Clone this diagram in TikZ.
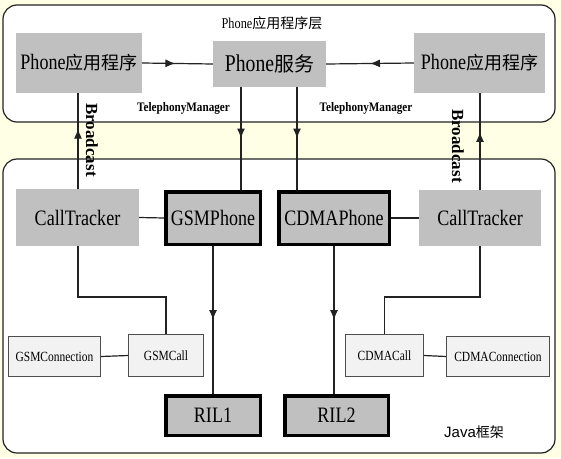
\documentclass[tikz,border=0pt]{standalone}
\usepackage{fontspec}
\setmainfont{Liberation Serif}
\newfontfamily\ser[FakeStretch=0.82]{Liberation Serif}
\newfontfamily\cjk{Noto Sans CJK SC}
\newfontfamily\javasans{Liberation Sans}
\newfontfamily\boldnarrow[FakeStretch=0.86]{Liberation Serif Bold}
\usetikzlibrary{arrows.meta,decorations.markings}
\definecolor{bgyellow}{HTML}{FFFFE6}
\definecolor{boxgray}{HTML}{C0C0C0}
\definecolor{lightbox}{HTML}{F2F2F2}
\definecolor{linecol}{HTML}{222222}
\newcommand{\zh}[1]{{\cjk #1}}
\begin{document}
\begin{tikzpicture}[x=1pt,y=-1pt,
  frame/.style={draw=linecol,line width=1.2pt,fill=white,rounded corners=14pt},
  graybox/.style={fill=boxgray,inner sep=0pt,anchor=center},
  thickbox/.style={draw=black,line width=3.5pt,fill=boxgray,inner sep=0pt,anchor=center},
  smallbox/.style={draw=linecol!80,line width=1pt,fill=lightbox,inner sep=0pt,anchor=center},
  conn/.style={draw=linecol,line width=1.2pt},
  midarrow/.style={conn,postaction={decorate},decoration={markings,mark=at position #1 with {\arrow{Latex[length=10pt,width=8pt]}}}},
  biglabel/.style={font=\ser\fontsize{22}{24}\selectfont},
  smalllabel/.style={font=\ser\fontsize{14}{16}\selectfont},
  tmlabel/.style={font=\boldnarrow\fontsize{13}{15}\selectfont},
  bclabel/.style={font=\bfseries\fontsize{17}{19}\selectfont,rotate=-90}
]
\fill[bgyellow] (0,0) rectangle (561,458);
\useasboundingbox (0,0) rectangle (561,458);

% frames
\draw[frame] (3,5) rectangle (555,122);
\draw[frame] (3,159) rectangle (555,453);

\node[font=\ser\fontsize{15}{17}\selectfont] (title) at (272,23) {Phone\zh{\fontsize{14}{16}\selectfont 应用程序层}};
\node[font=\javasans\fontsize{15}{17}\selectfont] (java) at (474,432) {Java\zh{\fontsize{14}{16}\selectfont 框架}};

% top layer
\node[graybox,minimum width=126pt,minimum height=60pt,biglabel] (appL) at (79,63) {Phone\zh{\fontsize{18}{20}\selectfont 应用程序}};
\node[graybox,minimum width=113pt,minimum height=46pt,font=\ser\fontsize{24}{26}\selectfont] (svc) at (269.5,64) {Phone\zh{\fontsize{20}{22}\selectfont 服务}};
\node[graybox,minimum width=131pt,minimum height=60pt,biglabel] (appR) at (479.5,63) {Phone\zh{\fontsize{18}{20}\selectfont 应用程序}};

% middle row
\node[graybox,minimum width=123pt,minimum height=57pt,biglabel] (ctL) at (77.5,217.5) {CallTracker};
\node[thickbox,minimum width=94.5pt,minimum height=52.5pt,biglabel] (gsm) at (213,218) {GSMPhone};
\node[thickbox,minimum width=110.5pt,minimum height=52.5pt,biglabel] (cdma) at (334,218) {CDMAPhone};
\node[graybox,minimum width=122pt,minimum height=56pt,biglabel] (ctR) at (480,218) {CallTracker};

% small boxes
\node[smallbox,minimum width=92pt,minimum height=40pt,smalllabel] (gconn) at (54.5,356.5) {GSMConnection};
\node[smallbox,minimum width=75pt,minimum height=42pt,smalllabel] (gcall) at (166,355.5) {GSMCall};
\node[smallbox,minimum width=78pt,minimum height=42pt,smalllabel] (ccall) at (384.5,355.5) {CDMACall};
\node[smallbox,minimum width=103pt,minimum height=40pt,smalllabel] (cconn) at (498,356.5) {CDMAConnection};

% RIL
\node[thickbox,minimum width=94.5pt,minimum height=39.5pt,biglabel] (ril1) at (213,415.5) {RIL1};
\node[thickbox,minimum width=103.5pt,minimum height=39.5pt,biglabel] (ril2) at (336.5,415.5) {RIL2};

% labels
\node[tmlabel] (tm1) at (183.5,108) {TelephonyManager};
\node[tmlabel] (tm2) at (366,108) {TelephonyManager};
\node[bclabel] (bc1) at (92,140) {Broadcast};
\node[bclabel] (bc2) at (458,146) {Broadcast};

% coordinates
\coordinate (svcA) at (241,87);
\coordinate (svcB) at (297,87);
\coordinate (ctLtop) at (78,189);
\coordinate (ctRtop) at (480,190);

% connectors
\draw[midarrow=0.47] (appL.east) -- (svc.west);
\draw[midarrow=0.5] (appR.west) -- (svc.east);
\draw[midarrow=0.5] (svcA) -- (svcA |- gsm.north);
\draw[midarrow=0.5] (svcB) -- (svcB |- cdma.north);
\draw[midarrow=0.63] (ctLtop) -- (ctLtop |- appL.south);
\draw[midarrow=0.6] (ctRtop) -- (ctRtop |- appR.south);
\draw[conn] (ctL.east) -- (gsm.west);
\draw[conn] (cdma.east) -- (ctR.west);
\draw[conn] (ctL.south -| ctLtop) -- (78,297) -- (gcall.north |- 0,297) -- (gcall.north);
\draw[conn] (ctR.south -| ctRtop) -- (480,297) -- (ccall.north |- 0,297) -- (ccall.north);
\draw[midarrow=0.5] (gsm.south) -- (ril1.north);
\draw[midarrow=0.5] (cdma.south) -- (cdma.south |- ril2.north);
\draw[conn] (gconn.east) -- (gcall.west);
\draw[conn] (ccall.east) -- (cconn.west);
\end{tikzpicture}
\end{document}
